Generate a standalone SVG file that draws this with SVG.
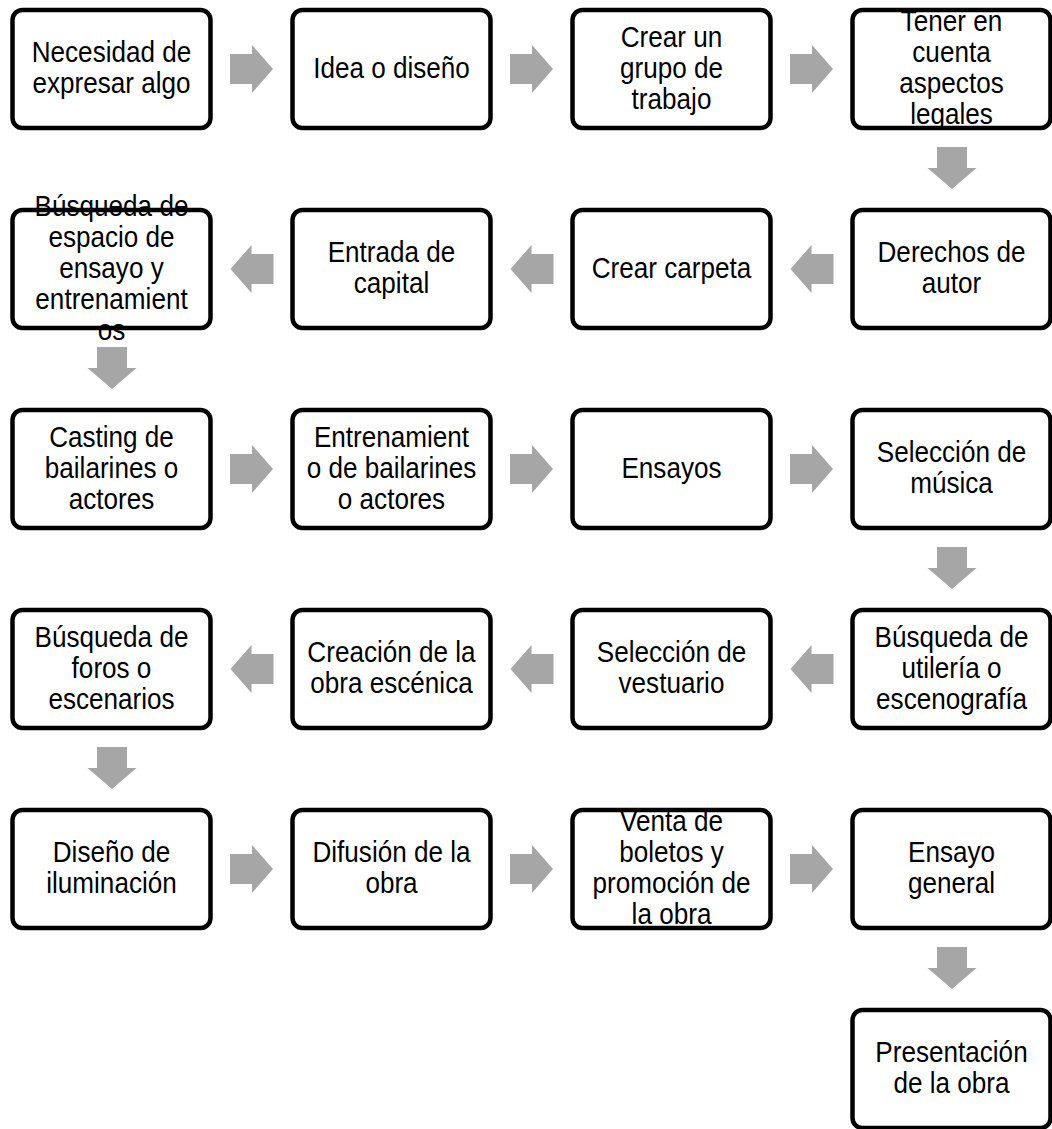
<svg xmlns="http://www.w3.org/2000/svg" width="1052" height="1129" viewBox="0 0 1052 1129">
<style>
.bg{fill:#fff;stroke:none}
.bd{fill:none;stroke:#000;stroke-width:4.5}
.t{font-family:"Liberation Sans",Arial,sans-serif;font-size:29px;fill:#000;text-anchor:middle}
.ar{fill:#a6a6a6}
</style>
<defs>
<polygon id="ar-r" points="-21.5,-15 0.5,-15 0.5,-24 21.5,0 0.5,24 0.5,15 -21.5,15"/>
<polygon id="ar-l" points="21.5,-15 -0.5,-15 -0.5,-24 -21.5,0 -0.5,24 -0.5,15 21.5,15"/>
<polygon id="ar-d" points="-15,-21 15,-21 15,0 24.5,0 0,21 -24.5,0 -15,0"/>
</defs>
<rect x="0" y="0" width="1052" height="1129" fill="#fff"/>

<g id="connectors" class="ar">
<use href="#ar-r" x="251.5" y="69"/>
<use href="#ar-r" x="531.5" y="69"/>
<use href="#ar-r" x="811.5" y="69"/>
<use href="#ar-d" x="952" y="168"/>
<use href="#ar-l" x="812" y="269"/>
<use href="#ar-l" x="532" y="269"/>
<use href="#ar-l" x="252" y="269"/>
<use href="#ar-d" x="112" y="368"/>
<use href="#ar-r" x="251.5" y="469"/>
<use href="#ar-r" x="531.5" y="469"/>
<use href="#ar-r" x="811.5" y="469"/>
<use href="#ar-d" x="952" y="568"/>
<use href="#ar-l" x="812" y="669"/>
<use href="#ar-l" x="532" y="669"/>
<use href="#ar-l" x="252" y="669"/>
<use href="#ar-d" x="112" y="768"/>
<use href="#ar-r" x="251.5" y="869"/>
<use href="#ar-r" x="531.5" y="869"/>
<use href="#ar-r" x="811.5" y="869"/>
<use href="#ar-d" x="952" y="968"/>
</g>

<!-- Row 1 -->
<g id="n1"><rect class="bg" x="12.5" y="10" width="198" height="118" rx="10"/>
<text class="t" transform="translate(111.5 0) scale(0.9 1)"><tspan x="0" y="62.5">Necesidad de</tspan><tspan x="0" y="93.5">expresar algo</tspan></text>
<rect class="bd" x="12.5" y="10" width="198" height="118" rx="10"/></g>

<g id="n2"><rect class="bg" x="292.5" y="10" width="198" height="118" rx="10"/>
<text class="t" transform="translate(391.5 0) scale(0.9 1)"><tspan x="0" y="78">Idea o diseño</tspan></text>
<rect class="bd" x="292.5" y="10" width="198" height="118" rx="10"/></g>

<g id="n3"><rect class="bg" x="572.5" y="10" width="198" height="118" rx="10"/>
<text class="t" transform="translate(671.5 0) scale(0.9 1)"><tspan x="0" y="47">Crear un</tspan><tspan x="0" y="78">grupo de</tspan><tspan x="0" y="109">trabajo</tspan></text>
<rect class="bd" x="572.5" y="10" width="198" height="118" rx="10"/></g>

<g id="n4"><rect class="bg" x="852.5" y="10" width="198" height="118" rx="10"/>
<text class="t" transform="translate(951.5 0) scale(0.9 1)"><tspan x="0" y="31.5">Tener en</tspan><tspan x="0" y="62.5">cuenta</tspan><tspan x="0" y="93.5">aspectos</tspan><tspan x="0" y="124.5">legales</tspan></text>
<rect class="bd" x="852.5" y="10" width="198" height="118" rx="10"/></g>

<!-- Row 2 -->
<g id="n5"><rect class="bg" x="852.5" y="210" width="198" height="118" rx="10"/>
<text class="t" transform="translate(951.5 0) scale(0.9 1)"><tspan x="0" y="262.5">Derechos de</tspan><tspan x="0" y="293.5">autor</tspan></text>
<rect class="bd" x="852.5" y="210" width="198" height="118" rx="10"/></g>

<g id="n6"><rect class="bg" x="572.5" y="210" width="198" height="118" rx="10"/>
<text class="t" transform="translate(671.5 0) scale(0.9 1)"><tspan x="0" y="278">Crear carpeta</tspan></text>
<rect class="bd" x="572.5" y="210" width="198" height="118" rx="10"/></g>

<g id="n7"><rect class="bg" x="292.5" y="210" width="198" height="118" rx="10"/>
<text class="t" transform="translate(391.5 0) scale(0.9 1)"><tspan x="0" y="262.5">Entrada de</tspan><tspan x="0" y="293.5">capital</tspan></text>
<rect class="bd" x="292.5" y="210" width="198" height="118" rx="10"/></g>

<g id="n8"><rect class="bg" x="12.5" y="210" width="198" height="118" rx="10"/>
<text class="t" transform="translate(111.5 0) scale(0.9 1)"><tspan x="0" y="216">Búsqueda de</tspan><tspan x="0" y="247">espacio de</tspan><tspan x="0" y="278">ensayo y</tspan><tspan x="0" y="309">entrenamient</tspan><tspan x="0" y="340">os</tspan></text>
<rect class="bd" x="12.5" y="210" width="198" height="118" rx="10"/></g>

<!-- Row 3 -->
<g id="n9"><rect class="bg" x="12.5" y="410" width="198" height="118" rx="10"/>
<text class="t" transform="translate(111.5 0) scale(0.9 1)"><tspan x="0" y="447">Casting de</tspan><tspan x="0" y="478">bailarines o</tspan><tspan x="0" y="509">actores</tspan></text>
<rect class="bd" x="12.5" y="410" width="198" height="118" rx="10"/></g>

<g id="n10"><rect class="bg" x="292.5" y="410" width="198" height="118" rx="10"/>
<text class="t" transform="translate(391.5 0) scale(0.9 1)"><tspan x="0" y="447">Entrenamient</tspan><tspan x="0" y="478">o de bailarines</tspan><tspan x="0" y="509">o actores</tspan></text>
<rect class="bd" x="292.5" y="410" width="198" height="118" rx="10"/></g>

<g id="n11"><rect class="bg" x="572.5" y="410" width="198" height="118" rx="10"/>
<text class="t" transform="translate(671.5 0) scale(0.9 1)"><tspan x="0" y="478">Ensayos</tspan></text>
<rect class="bd" x="572.5" y="410" width="198" height="118" rx="10"/></g>

<g id="n12"><rect class="bg" x="852.5" y="410" width="198" height="118" rx="10"/>
<text class="t" transform="translate(951.5 0) scale(0.9 1)"><tspan x="0" y="462.5">Selección de</tspan><tspan x="0" y="493.5">música</tspan></text>
<rect class="bd" x="852.5" y="410" width="198" height="118" rx="10"/></g>

<!-- Row 4 -->
<g id="n13"><rect class="bg" x="852.5" y="610" width="198" height="118" rx="10"/>
<text class="t" transform="translate(951.5 0) scale(0.9 1)"><tspan x="0" y="647">Búsqueda de</tspan><tspan x="0" y="678">utilería o</tspan><tspan x="0" y="709">escenografía</tspan></text>
<rect class="bd" x="852.5" y="610" width="198" height="118" rx="10"/></g>

<g id="n14"><rect class="bg" x="572.5" y="610" width="198" height="118" rx="10"/>
<text class="t" transform="translate(671.5 0) scale(0.9 1)"><tspan x="0" y="662.5">Selección de</tspan><tspan x="0" y="693.5">vestuario</tspan></text>
<rect class="bd" x="572.5" y="610" width="198" height="118" rx="10"/></g>

<g id="n15"><rect class="bg" x="292.5" y="610" width="198" height="118" rx="10"/>
<text class="t" transform="translate(391.5 0) scale(0.9 1)"><tspan x="0" y="662.5">Creación de la</tspan><tspan x="0" y="693.5">obra escénica</tspan></text>
<rect class="bd" x="292.5" y="610" width="198" height="118" rx="10"/></g>

<g id="n16"><rect class="bg" x="12.5" y="610" width="198" height="118" rx="10"/>
<text class="t" transform="translate(111.5 0) scale(0.9 1)"><tspan x="0" y="647">Búsqueda de</tspan><tspan x="0" y="678">foros o</tspan><tspan x="0" y="709">escenarios</tspan></text>
<rect class="bd" x="12.5" y="610" width="198" height="118" rx="10"/></g>

<!-- Row 5 -->
<g id="n17"><rect class="bg" x="12.5" y="810" width="198" height="118" rx="10"/>
<text class="t" transform="translate(111.5 0) scale(0.9 1)"><tspan x="0" y="862.5">Diseño de</tspan><tspan x="0" y="893.5">iluminación</tspan></text>
<rect class="bd" x="12.5" y="810" width="198" height="118" rx="10"/></g>

<g id="n18"><rect class="bg" x="292.5" y="810" width="198" height="118" rx="10"/>
<text class="t" transform="translate(391.5 0) scale(0.9 1)"><tspan x="0" y="862.5">Difusión de la</tspan><tspan x="0" y="893.5">obra</tspan></text>
<rect class="bd" x="292.5" y="810" width="198" height="118" rx="10"/></g>

<g id="n19"><rect class="bg" x="572.5" y="810" width="198" height="118" rx="10"/>
<text class="t" transform="translate(671.5 0) scale(0.9 1)"><tspan x="0" y="831.5">Venta de</tspan><tspan x="0" y="862.5">boletos y</tspan><tspan x="0" y="893.5">promoción de</tspan><tspan x="0" y="924.5">la obra</tspan></text>
<rect class="bd" x="572.5" y="810" width="198" height="118" rx="10"/></g>

<g id="n20"><rect class="bg" x="852.5" y="810" width="198" height="118" rx="10"/>
<text class="t" transform="translate(951.5 0) scale(0.9 1)"><tspan x="0" y="862.5">Ensayo</tspan><tspan x="0" y="893.5">general</tspan></text>
<rect class="bd" x="852.5" y="810" width="198" height="118" rx="10"/></g>

<!-- Row 6 -->
<g id="n21"><rect class="bg" x="852.5" y="1010" width="198" height="118" rx="10"/>
<text class="t" transform="translate(951.5 0) scale(0.9 1)"><tspan x="0" y="1062.5">Presentación</tspan><tspan x="0" y="1093.5">de la obra</tspan></text>
<rect class="bd" x="852.5" y="1010" width="198" height="118" rx="10"/></g>
</svg>
